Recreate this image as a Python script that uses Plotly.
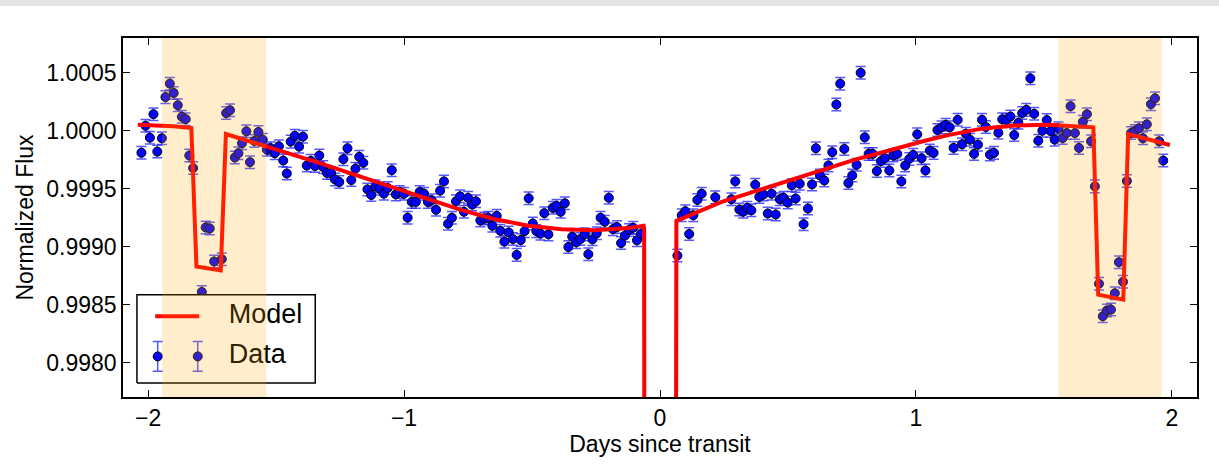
import plotly.graph_objects as go

# ---- observed light curve (days since mid-transit, normalized flux) ----
days = [
    -2.026, -2.010, -1.993, -1.979, -1.964, -1.946, -1.932, -1.915, -1.900, -1.884,
    -1.868, -1.853, -1.839, -1.824, -1.790, -1.775, -1.759, -1.742, -1.712, -1.695,
    -1.680, -1.661, -1.647, -1.633, -1.616, -1.602, -1.585, -1.569, -1.552, -1.536,
    -1.521, -1.505, -1.489, -1.472, -1.458, -1.443, -1.427, -1.410, -1.395, -1.380,
    -1.364, -1.348, -1.331, -1.316, -1.301, -1.285, -1.270, -1.253, -1.237, -1.221,
    -1.206, -1.190, -1.175, -1.159, -1.143, -1.128, -1.112, -1.095, -1.079, -1.064,
    -1.048, -1.032, -1.017, -1.000, -0.986, -0.970, -0.954, -0.939, -0.922, -0.907,
    -0.892, -0.875, -0.859, -0.844, -0.828, -0.813, -0.797, -0.781, -0.766, -0.750,
    -0.734, -0.719, -0.702, -0.686, -0.671, -0.655, -0.638, -0.624, -0.608, -0.591,
    -0.575, -0.560, -0.544, -0.529, -0.513, -0.497, -0.483, -0.467, -0.452, -0.436,
    -0.419, -0.404, -0.388, -0.372, -0.358, -0.343, -0.327, -0.311, -0.294, -0.280,
    -0.264, -0.247, -0.232, -0.216, -0.200, -0.184, -0.168, -0.152, -0.137, -0.121,
    -0.105, -0.090, -0.074,
    0.068, 0.085, 0.099, 0.114, 0.130, 0.146, 0.163, 0.216, 0.279, 0.294,
    0.310, 0.325, 0.341, 0.357, 0.372, 0.388, 0.404, 0.421, 0.436, 0.452,
    0.468, 0.483, 0.499, 0.515, 0.530, 0.546, 0.561, 0.578, 0.594, 0.609,
    0.625, 0.642, 0.658, 0.673, 0.689, 0.704, 0.720, 0.736, 0.751, 0.768,
    0.784, 0.800, 0.815, 0.831, 0.847, 0.863, 0.879, 0.896, 0.911, 0.927,
    0.943, 0.958, 0.974, 0.989, 1.005, 1.022, 1.037, 1.054, 1.069, 1.084,
    1.100, 1.116, 1.132, 1.147, 1.163, 1.180, 1.195, 1.211, 1.227, 1.242,
    1.258, 1.273, 1.289, 1.305, 1.322, 1.337, 1.353, 1.369, 1.384, 1.400,
    1.415, 1.431, 1.447, 1.462, 1.478, 1.494, 1.511, 1.526, 1.542, 1.557,
    1.573, 1.589, 1.604, 1.621, 1.637, 1.652, 1.668, 1.684, 1.699, 1.715,
    1.730, 1.746, 1.762, 1.777, 1.793, 1.809, 1.824, 1.840, 1.855, 1.871,
    1.887, 1.902, 1.918, 1.934, 1.950, 1.966,
]
flux = [
    0.999810, 1.000043, 0.999940, 1.000143, 0.999820, 0.999935, 1.000290, 1.000406, 1.000326, 1.000220,
    1.000120, 1.000100, 0.999786, 0.999678, 0.998609, 0.999166, 0.999157, 0.998872, 0.998892, 1.000152,
    1.000177, 0.999769, 0.999806, 0.999892, 0.999995, 0.999729, 0.999912, 0.999989, 0.999923, 0.999837,
    0.999849, 0.999806, 0.999866, 0.999743, 0.999631, 0.999906, 0.999957, 0.999863, 0.999949, 0.999700,
    0.999740, 0.999695, 0.999786, 0.999686, 0.999635, 0.999635, 0.999580, 0.999558, 0.999755, 0.999849,
    0.999575, 0.999672, 0.999775, 0.999723, 0.999494, 0.999446, 0.999520, 0.999500, 0.999457, 0.999506,
    0.999660, 0.999451, 0.999472, 0.999457, 0.999250, 0.999386, 0.999386, 0.999472, 0.999457, 0.999386,
    0.999400, 0.999318, 0.999483, 0.999563, 0.999198, 0.999249, 0.999391, 0.999434, 0.999301, 0.999421,
    0.999363, 0.999391, 0.999226, 0.999243, 0.999249, 0.999180, 0.999266, 0.999138, 0.999043, 0.999123,
    0.999066, 0.998929, 0.999057, 0.999134, 0.999417, 0.999200, 0.999134, 0.999112, 0.999289, 0.999106,
    0.999335, 0.999352, 0.999301, 0.999374, 0.998997, 0.999086, 0.999037, 0.999066, 0.999106, 0.998935,
    0.999063, 0.999115, 0.999249, 0.999215, 0.999421, 0.999151, 0.999169, 0.999031, 0.999095, 0.999143,
    0.999163, 0.999055, 0.999112,
    0.998923, 0.999271, 0.999306, 0.999109, 0.999271, 0.999403, 0.999457, 0.999426, 0.999409, 0.999563,
    0.999320, 0.999301, 0.999335, 0.999314, 0.999535, 0.999429, 0.999449, 0.999286, 0.999457, 0.999277,
    0.999409, 0.999421, 0.999380, 0.999529, 0.999415, 0.999543, 0.999194, 0.999329, 0.999537, 0.999849,
    0.999614, 0.999571, 0.999700, 0.999815, 1.000226, 1.000406, 0.999843, 0.999549, 0.999614, 0.999706,
    1.000500, 0.999943, 0.999800, 0.999800, 0.999652, 0.999738, 0.999763, 0.999657, 0.999786, 0.999800,
    0.999563, 0.999700, 0.999757, 0.999792, 0.999969, 0.999763, 0.999657, 0.999829, 0.999809, 1.000006,
    1.000029, 1.000051, 1.000029, 0.999852, 1.000094, 0.999883, 0.999974, 0.999923, 0.999800, 0.999880,
    1.000094, 1.000032, 0.999794, 0.999809, 0.999983, 1.000098, 1.000092, 1.000123, 0.999963, 1.000069,
    1.000152, 1.000180, 1.000452, 1.000146, 0.999914, 1.000000, 1.000092, 0.999997, 0.999923, 1.000021,
    0.999937, 0.999980, 1.000212, 0.999980, 0.999852, 1.000077, 1.000143, 0.999909, 0.999520, 0.998680,
    0.998400, 0.998449, 0.998457, 0.998598, 0.998866, 0.998697, 0.999566, 0.999980, 0.999997, 1.000021,
    0.999935, 1.000055, 1.000229, 1.000280, 0.999909, 0.999743,
]
flux_err = 0.000054

# ---- best-fit model curve ----
model_days = [
    -2.040, -1.960, -1.900, -1.831, -1.811, -1.716, -1.696, -1.350, -1.035, -0.905,
    -0.775, -0.645, -0.514, -0.384, -0.254, -0.124, -0.064, -0.062, -0.058, 0.058,
    0.062, 0.064, 0.241, 0.501, 0.762, 1.035, 1.126, 1.257, 1.387, 1.517,
    1.693, 1.712, 1.810, 1.829, 1.992,
]
model_flux = [
    1.000051, 1.000045, 1.000038, 1.000023, 0.998829, 0.998795, 0.999972, 0.999735, 0.999505, 0.999410,
    0.999315, 0.999237, 0.999180, 0.999150, 0.999142, 0.999160, 0.999180, 0.999150, 0.990000, 0.990000,
    0.999150, 0.999223, 0.999386, 0.999571, 0.999751, 0.999914, 0.999962, 1.000018, 1.000045, 1.000051,
    1.000029, 0.998586, 0.998543, 0.999972, 0.999877,
]

# secondary-eclipse windows (days)
eclipse_windows = [(-1.945, -1.538), (1.556, 1.960)]

x_ticks = [-2, -1, 0, 1, 2]
y_ticks = [0.9980, 0.9985, 0.9990, 0.9995, 1.0000, 1.0005]

FONT = "Liberation Sans, Arial, Helvetica, sans-serif"
BLUE = "#0000ff"
BAR = "rgba(30,30,255,0.75)"
RED = "#ff0000"

fig = go.Figure()

fig.add_trace(go.Scatter(
    x=days, y=flux, mode="markers",
    marker=dict(size=9, color=BLUE, line=dict(color="black", width=1)),
    error_y=dict(type="constant", value=flux_err, color=BAR, thickness=1.5, width=5),
    showlegend=False,
))
fig.add_trace(go.Scatter(
    x=model_days, y=model_flux, mode="lines",
    line=dict(color=RED, width=4),
    showlegend=False,
))

# ---- hand-built legend on a unit frame laid over the plot area ----
LEG_BOX = dict(x0=0.013, x1=0.179, y0=0.039, y1=0.285)
LEG_LINE = dict(x0=0.030, x1=0.071, y=0.225)
LEG_DOTS = dict(x=[0.0323, 0.0696], y=0.113, err=0.0416)
LEG_TEXT_X = 0.0985

fig.add_trace(go.Scatter(
    x=[LEG_BOX["x0"], LEG_BOX["x1"], LEG_BOX["x1"], LEG_BOX["x0"], LEG_BOX["x0"]],
    y=[LEG_BOX["y0"], LEG_BOX["y0"], LEG_BOX["y1"], LEG_BOX["y1"], LEG_BOX["y0"]],
    mode="lines", fill="toself", fillcolor="white",
    line=dict(color="black", width=1.5),
    xaxis="x2", yaxis="y2", showlegend=False, hoverinfo="skip",
))
fig.add_trace(go.Scatter(
    x=[LEG_LINE["x0"], LEG_LINE["x1"]], y=[LEG_LINE["y"], LEG_LINE["y"]],
    mode="lines", line=dict(color=RED, width=4),
    xaxis="x2", yaxis="y2", showlegend=False, hoverinfo="skip",
))
fig.add_trace(go.Scatter(
    x=LEG_DOTS["x"], y=[LEG_DOTS["y"]] * 2, mode="markers",
    marker=dict(size=9, color=BLUE, line=dict(color="black", width=1)),
    error_y=dict(type="constant", value=LEG_DOTS["err"], color=BAR, thickness=1.5, width=5),
    xaxis="x2", yaxis="y2", showlegend=False, hoverinfo="skip",
))
fig.add_trace(go.Scatter(
    x=[LEG_TEXT_X, LEG_TEXT_X], y=[LEG_LINE["y"], LEG_DOTS["y"]],
    mode="text", text=["Model", "Data"], textposition="middle right",
    textfont=dict(family=FONT, size=27, color="black"),
    xaxis="x2", yaxis="y2", showlegend=False, hoverinfo="skip",
))

# translucent eclipse bands on top of everything
shapes = [
    dict(type="rect", xref="x", yref="paper", x0=a, x1=b, y0=0, y1=1,
         fillcolor="orange", opacity=0.2, line=dict(width=0), layer="above")
    for a, b in eclipse_windows
]
# torn-paper strip along the top edge
shapes.append(dict(type="rect", xref="paper", yref="paper", x0=-0.2, x1=1.1,
                   y0=1.089, y1=1.11, fillcolor="#e3e3e3", line=dict(width=0),
                   layer="above"))

axis_common = dict(
    showline=True, linecolor="black", linewidth=1.5, mirror="ticks",
    ticks="inside", ticklen=7, tickwidth=1, tickcolor="black",
    showgrid=False, zeroline=False,
    tickfont=dict(family=FONT, size=23, color="black"),
)

fig.update_layout(
    width=1219, height=465, autosize=False,
    margin=dict(l=123, r=22, t=38, b=66),
    paper_bgcolor="white", plot_bgcolor="white",
    showlegend=False,
    shapes=shapes,
    xaxis=dict(range=[-2.098, 2.098], tickvals=x_ticks,
               title=dict(text="Days since transit", standoff=6,
                          font=dict(family=FONT, size=23, color="black")),
               **axis_common),
    yaxis=dict(range=[0.997703, 1.0008], tickvals=y_ticks, tickformat=".4f",
               title=dict(text="Normalized Flux", standoff=6,
                          font=dict(family=FONT, size=23, color="black")),
               **axis_common),
    xaxis2=dict(overlaying="x", anchor="y2", range=[0, 1], visible=False),
    yaxis2=dict(overlaying="y", anchor="x2", range=[0, 1], visible=False),
)

fig.write_html("out.html")
